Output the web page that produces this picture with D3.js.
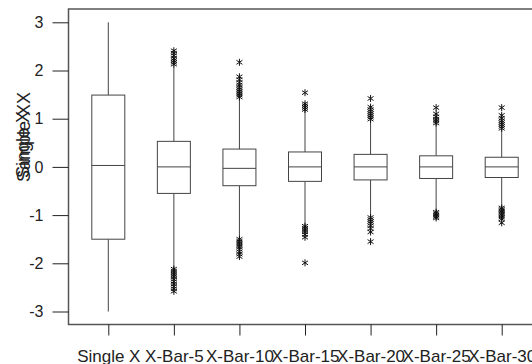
<!DOCTYPE html>
<html>
<head>
<meta charset="utf-8">
<script src="https://cdn.jsdelivr.net/npm/d3@7"></script>
<style>
  html, body { margin: 0; padding: 0; background: #fff; }
  svg { display: block; font-family: "Liberation Sans", Arial, sans-serif; }
</style>
</head>
<body>
<svg id="chart" width="532" height="364"></svg>
<script>
// Groups along the x axis
const categories = ["Single X", "X-Bar-5", "X-Bar-10", "X-Bar-15", "X-Bar-20", "X-Bar-25", "X-Bar-30"];

// Five-number summaries per group (whisker low, Q1, median, Q3, whisker high)
const whiskerLow  = [-3.00, -2.10, -1.48, -1.21, -1.03, -0.93, -0.83];
const q1          = [-1.50, -0.55, -0.39, -0.30, -0.27, -0.24, -0.22];
const medians     = [ 0.03,  0.00, -0.03,  0.00,  0.00,  0.00,  0.00];
const q3          = [ 1.49,  0.53,  0.37,  0.31,  0.26,  0.23,  0.20];
const whiskerHigh = [ 3.00,  2.08,  1.42,  1.21,  0.97,  0.89,  0.78];

// Points beyond the whiskers, per group
const outliers = [
  [],
  [2.13, 2.17, 2.21, 2.25, 2.31, 2.36, 2.41, -2.12, -2.16, -2.20, -2.24, -2.28, -2.33, -2.38, -2.43, -2.48, -2.53, -2.58],
  [1.45, 1.49, 1.53, 1.57, 1.61, 1.65, 1.70, 1.75, 1.81, 1.87, 2.17, -1.50, -1.54, -1.58, -1.62, -1.66, -1.71, -1.76, -1.81, -1.86],
  [1.19, 1.23, 1.27, 1.31, 1.54, -1.23, -1.27, -1.31, -1.35, -1.40, -1.46, -1.99],
  [0.99, 1.03, 1.07, 1.11, 1.15, 1.19, 1.24, 1.42, -1.05, -1.09, -1.13, -1.17, -1.22, -1.28, -1.35, -1.55],
  [0.91, 0.95, 0.99, 1.04, 1.10, 1.23, -0.94, -0.97, -1.00, -1.03, -1.06],
  [0.80, 0.84, 0.88, 0.92, 0.96, 1.01, 1.07, 1.23, -0.85, -0.88, -0.91, -0.94, -0.97, -1.00, -1.04, -1.08, -1.16]
];

const yTicks = [-3, -2, -1, 0, 1, 2, 3];
const yLabels = ["Single X", "Sample XX"];

const svg = d3.select("#chart");

const x = d3.scalePoint().domain(categories).range([108.3, 501.7]);
const y = d3.scaleLinear().domain([-3, 3]).range([311.5, 22.3]);

const frameLeft = 68.5, frameTop = 9, frameBottom = 324.5, frameRight = 532;
const boxW = 33;
const lineColor = "#444";

// Plot frame: left, top and bottom edges
svg.append("path")
  .attr("d", `M${frameRight},${frameTop}H${frameLeft}V${frameBottom}H${frameRight}`)
  .attr("fill", "none").attr("stroke", "#555").attr("stroke-width", 1.5);

// Y axis ticks and labels (plain hyphen for negatives)
const yAxis = svg.append("g")
  .attr("transform", `translate(${frameLeft},0)`)
  .call(d3.axisLeft(y).tickValues(yTicks).tickSize(16).tickPadding(9).tickFormat(d => String(d)));
yAxis.select(".domain").remove();
yAxis.selectAll(".tick line").attr("stroke", "#222");
yAxis.selectAll(".tick text").attr("font-size", 16).attr("fill", "#222")
  .attr("font-family", "Liberation Sans, Arial, sans-serif");

// X axis ticks and labels
const xAxis = svg.append("g")
  .attr("transform", `translate(0,${frameBottom})`)
  .call(d3.axisBottom(x).tickSize(11).tickPadding(14));
xAxis.select(".domain").remove();
xAxis.selectAll(".tick line").attr("stroke", "#222");
xAxis.selectAll(".tick text").attr("font-size", 17).attr("fill", "#222")
  .attr("font-family", "Liberation Sans, Arial, sans-serif");

// Rotated y-axis titles (two overlapping strings)
svg.append("text")
  .attr("transform", "translate(29,178) rotate(-90)")
  .attr("text-anchor", "start").attr("font-size", 18).attr("fill", "#222")
  .text(yLabels[0]);
svg.append("text")
  .attr("transform", "translate(30,92) rotate(-90)")
  .attr("text-anchor", "end").attr("font-size", 18).attr("fill", "#222")
  .text(yLabels[1]);

// Boxes
const groups = svg.append("g").selectAll("g.box")
  .data(categories.map((c, i) => ({
    c, lo: whiskerLow[i], q1: q1[i], med: medians[i], q3: q3[i], hi: whiskerHigh[i], out: outliers[i]
  })))
  .join("g").attr("class", "box");

groups.append("line")
  .attr("x1", d => x(d.c)).attr("x2", d => x(d.c))
  .attr("y1", d => y(d.q3)).attr("y2", d => y(d.hi))
  .attr("stroke", lineColor);
groups.append("line")
  .attr("x1", d => x(d.c)).attr("x2", d => x(d.c))
  .attr("y1", d => y(d.q1)).attr("y2", d => y(d.lo))
  .attr("stroke", lineColor);
groups.append("rect")
  .attr("x", d => x(d.c) - boxW / 2).attr("width", boxW)
  .attr("y", d => y(d.q3)).attr("height", d => y(d.q1) - y(d.q3))
  .attr("fill", "#fff").attr("stroke", lineColor);
groups.append("line")
  .attr("x1", d => x(d.c) - boxW / 2).attr("x2", d => x(d.c) + boxW / 2)
  .attr("y1", d => y(d.med)).attr("y2", d => y(d.med))
  .attr("stroke", lineColor);

// Outlier asterisks
const star = "M0,-3.5V3.5M-3,-2L3,2M-3,2L3,-2";
groups.selectAll("path.out")
  .data(d => d.out.map(v => ({ c: d.c, v })))
  .join("path").attr("class", "out")
  .attr("transform", d => `translate(${x(d.c)},${y(d.v)})`)
  .attr("d", star)
  .attr("fill", "none").attr("stroke", "#111").attr("stroke-width", 1);
</script>
</body>
</html>
